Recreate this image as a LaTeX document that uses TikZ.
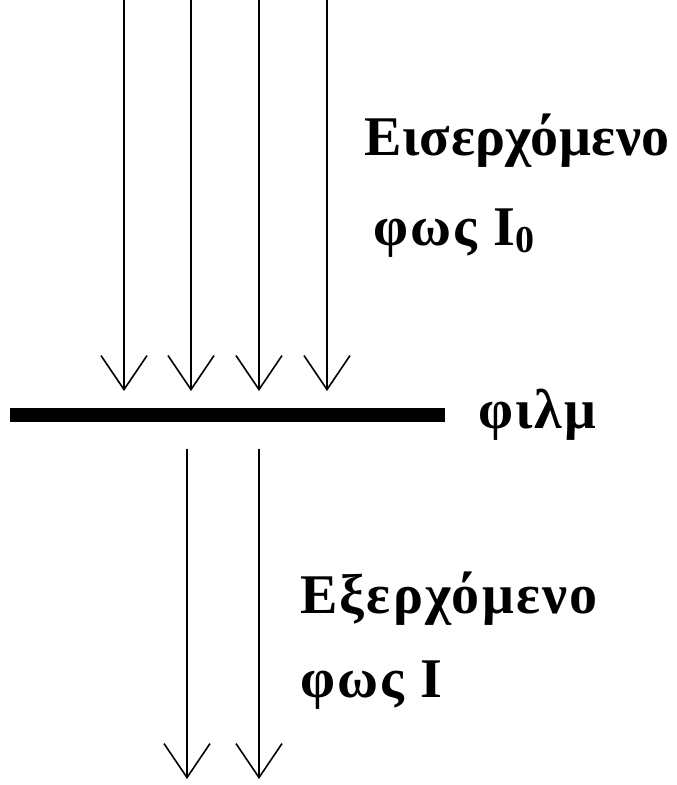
\documentclass[tikz,border=0pt]{standalone}
\usepackage{fontspec}
\setmainfont{Liberation Serif}[LetterSpace=4]
\usetikzlibrary{arrows.meta,positioning}

\tikzset{
    ray/.style={line width=1.6pt, -{Straight Barb[length=34pt,width=46pt,line width=1.6pt]}},
    label/.style={font=\fontsize{56}{60}\selectfont\bfseries, anchor=base west, inner sep=0pt}
}

\begin{document}
\begin{tikzpicture}[x=1pt,y=-1pt]
    \useasboundingbox (0,0) rectangle (677,785);

    % Film
    \node[fill=black, minimum width=435pt, minimum height=14pt, inner sep=0pt, anchor=west] (film) at (10,415) {};

    % Incoming rays
    \foreach \x [count=\i] in {124,191,259,327} {
        \coordinate (in\i) at (\x,0);
        \coordinate (hit\i) at (\x,391);
        \draw[ray] (in\i) -- (hit\i);
    }

    % Outgoing rays
    \foreach \x [count=\i] in {187,259} {
        \coordinate (out\i) at (\x,449);
        \coordinate (end\i) at (\x,779);
        \draw[ray] (out\i) -- (end\i);
    }

    % Labels
    \node[label] (inlabel) at (364,155) {\addfontfeatures{LetterSpace=1}Εισερχόμενο};
    \node[label] (inlight) at (373,245) {φως I\raisebox{-7pt}{\fontsize{38}{38}\selectfont 0}};
    \node[label] (filmlabel) at (478,428) {φιλμ};
    \node[label] (outlabel) at (300,613) {Εξερχόμενο};
    \node[label] (outlight) at (300,697) {φως I};
\end{tikzpicture}
\end{document}
